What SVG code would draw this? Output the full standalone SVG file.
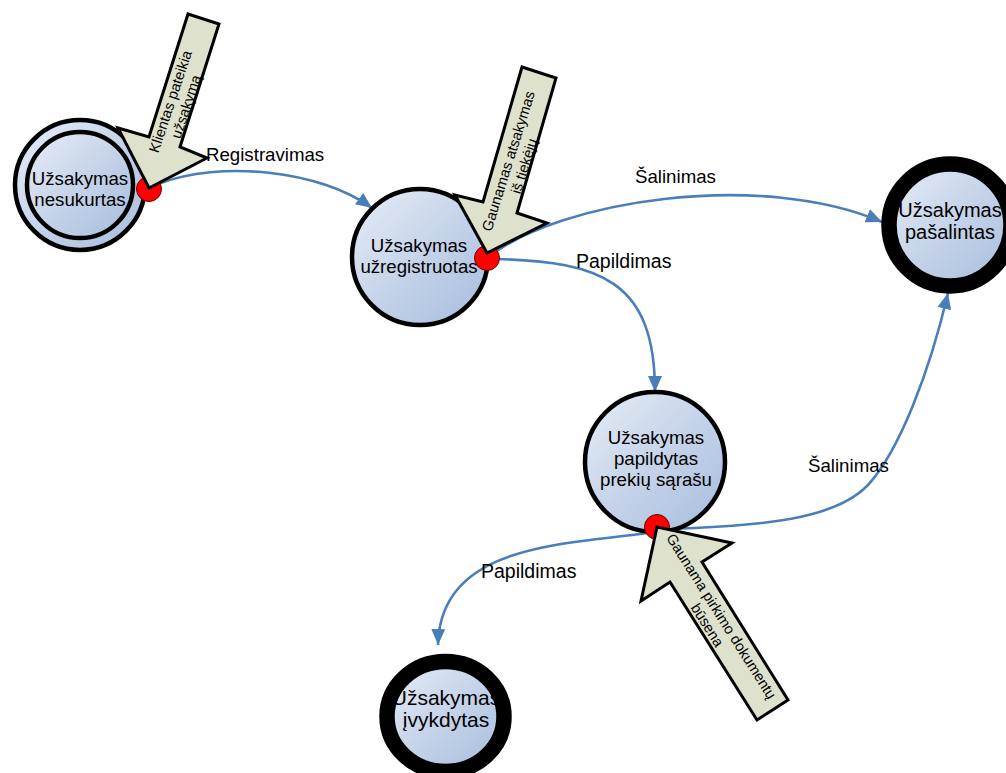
<svg xmlns="http://www.w3.org/2000/svg" width="1006" height="773" viewBox="0 0 1006 773">
<defs>
<linearGradient id="nodeGrad" x1="0" y1="0" x2="1" y2="1">
<stop offset="0" stop-color="#e6edf7"/>
<stop offset="0.55" stop-color="#c2d1e8"/>
<stop offset="1" stop-color="#a6bcdc"/>
</linearGradient>
<marker id="ah" markerUnits="userSpaceOnUse" markerWidth="16" markerHeight="14" refX="16" refY="7" orient="auto">
<path d="M0,0 L16,7 L0,14 z" fill="#4a7ebb"/>
</marker>
<style>
.node{fill:url(#nodeGrad);stroke:#000;stroke-width:4.5}
.final{fill:url(#nodeGrad);stroke:#000;stroke-width:15.5}
.ntext{font-family:"Liberation Sans",Arial,sans-serif;font-size:18.67px;fill:#000;text-anchor:middle}
.label{font-family:"Liberation Sans",Arial,sans-serif;font-size:18.67px;fill:#000}
.conn{fill:none;stroke:#4a7ebb;stroke-width:2.6;marker-end:url(#ah)}
.dot{fill:#f00;stroke:#600;stroke-width:1}
.event{fill:#dee2cd;stroke:#000;stroke-width:3;stroke-linejoin:miter}
.etext{font-family:"Liberation Sans",Arial,sans-serif;font-size:14.67px;fill:#000;text-anchor:middle}
</style>
</defs>

<g id="connectors">
<path class="conn" d="M158,184 C220,160 320,170 372,208"/>
<path class="conn" d="M487,258 C560,200 760,170 882,222"/>
<path class="conn" d="M497,259 C600,262 655,280 655,392"/>
<path class="conn" d="M666,529 C760,526 835,520 868,485 C900,450 930,370 948,293"/>
<path class="conn" d="M648,533 C560,545 440,545 438,645"/>
</g>

<g id="node-nesukurtas">
<circle cx="80" cy="185" r="65" class="node" stroke-width="4"/>
<circle cx="80" cy="185" r="53" class="node" stroke-width="4"/>
<text class="ntext"><tspan x="80" y="184.5">Užsakymas</tspan><tspan x="80" y="205.5">nesukurtas</tspan></text>
</g>

<g id="node-uzregistruotas">
<circle cx="420" cy="257" r="68" class="node"/>
<text class="ntext"><tspan x="419" y="252">Užsakymas</tspan><tspan x="419" y="273">užregistruotas</tspan></text>
</g>

<g id="node-pasalintas">
<circle cx="950" cy="225" r="61" class="final"/>
<text class="ntext" style="font-size:20px"><tspan x="950" y="217">Užsakymas</tspan><tspan x="950" y="239">pašalintas</tspan></text>
</g>

<g id="node-papildytas">
<circle cx="655" cy="462" r="70" class="node"/>
<text class="ntext"><tspan x="656" y="443.5">Užsakymas</tspan><tspan x="656" y="464.5">papildytas</tspan><tspan x="656" y="485.5">prekių sąrašu</tspan></text>
</g>

<g id="node-ivykdytas">
<ellipse cx="445.5" cy="716.5" rx="58.5" ry="55" class="final"/>
<text class="ntext" style="font-size:21px"><tspan x="446" y="705">Užsakymas</tspan><tspan x="446" y="727">įvykdytas</tspan></text>
</g>

<g id="dots">
<circle class="dot" cx="149" cy="189" r="12.5"/>
<circle class="dot" cx="487" cy="258" r="12.5"/>
<circle class="dot" cx="657" cy="527" r="12.5"/>
</g>

<g id="event-klientas">
<polygon class="event" points="188,14 219,24 180,147 207,158 149,188 118,128 149,137"/>
<text class="etext" transform="translate(178,104) rotate(-71.5)"><tspan x="0" y="-3">Klientas pateikia</tspan><tspan x="0" y="13.5">užsakymą</tspan></text>
</g>

<g id="event-gaunamas">
<polygon class="event" points="522,67 556,78 517,213 547,223 487,253 455,195 483,202"/>
<text class="etext" transform="translate(516,163.5) rotate(-72.5)"><tspan x="0" y="-3">Gaunamas atsakymas</tspan><tspan x="0" y="13.5">iš tiekėjų</tspan></text>
</g>

<g id="event-gaunama">
<polygon class="event" points="788,700 757,720 670,582 641,601 657,527 732,543 702,562"/>
<text class="etext" transform="translate(714.5,620.5) rotate(57.7)"><tspan x="0" y="-3">Gaunama pirkimo dokumentų</tspan><tspan x="0" y="13.5">būsena</tspan></text>
</g>

<g id="labels">
<text class="label" x="206" y="161">Registravimas</text>
<text class="label" x="635" y="183">Šalinimas</text>
<text class="label" x="576" y="268" style="font-size:19.5px">Papildimas</text>
<text class="label" x="808" y="472">Šalinimas</text>
<text class="label" x="481" y="578" style="font-size:19.5px">Papildimas</text>
</g>
</svg>
